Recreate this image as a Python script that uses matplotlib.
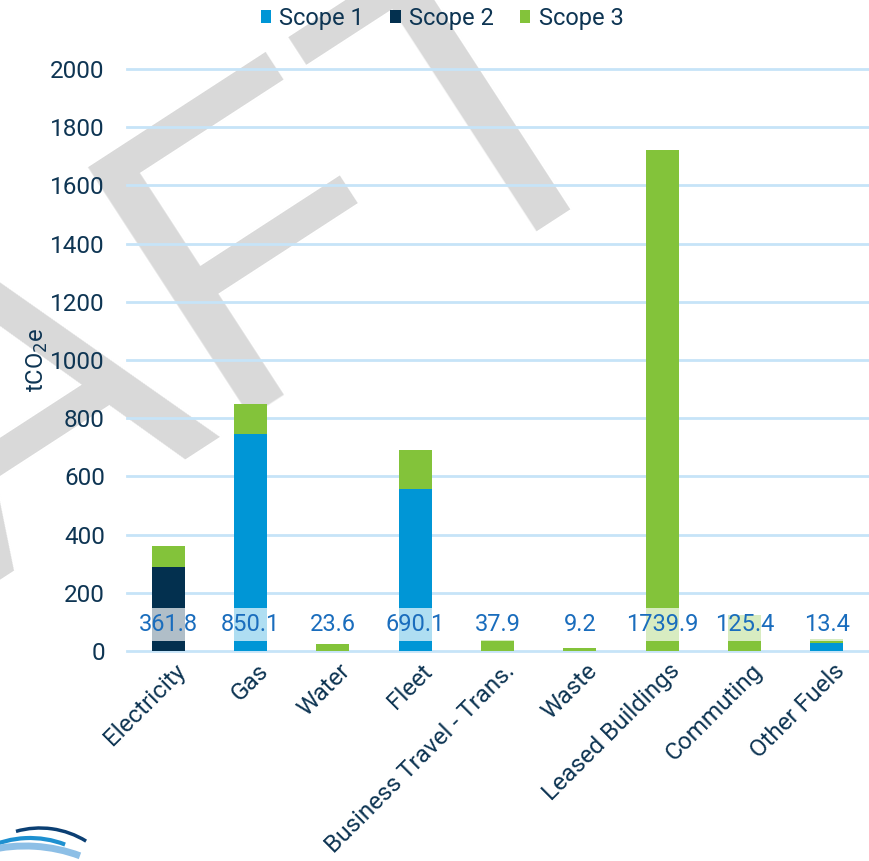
import matplotlib
matplotlib.use("Agg")
import matplotlib.pyplot as plt
import matplotlib.transforms as mtransforms
from matplotlib.patches import Arc
import numpy as np

categories = ['Electricity', 'Gas', 'Water', 'Fleet', 'Business Travel - Trans.',
              'Waste', 'Leased Buildings', 'Commuting', 'Other Fuels']
scope1 = [0, 747, 0, 558, 0, 0, 0, 0, 27]
scope2 = [290, 0, 0, 0, 0, 0, 0, 0, 0]
scope3 = [71.8, 103.1, 23.6, 132.1, 37.9, 9.2, 1722, 125.4, 13.4]
total_labels = ['361.8', '850.1', '23.6', '690.1', '37.9', '9.2', '1739.9', '125.4', '13.4']
yticks = [0, 200, 400, 600, 800, 1000, 1200, 1400, 1600, 1800, 2000]

C1 = '#0096D6'
C2 = '#03304F'
C3 = '#83C33A'
NAVY = '#0E3553'
LBL = '#1A6DBD'
GRID = '#C6E4F8'

plt.rcParams['font.family'] = ['Roboto', 'DejaVu Sans']

W, H = 870, 861
fig = plt.figure(figsize=(W / 100, H / 100), dpi=100)
ident = mtransforms.IdentityTransform()

# DRAFT watermark
fig.text(-551, -54, 'DRAFT', transform=ident, rotation=33, rotation_mode='anchor',
         ha='left', va='baseline', fontsize=312, color='#D9D9D9',
         family='Liberation Sans', zorder=-5)

ax = fig.add_axes([127 / W, (H - 651) / H, 741 / W, 582 / H])
ax.set_facecolor('none')

x = np.arange(len(categories))
s1 = np.array(scope1, dtype=float)
s2 = np.array(scope2, dtype=float)
s3 = np.array(scope3, dtype=float)
bw = 0.4
ax.bar(x, s1, bw, color=C1, label='Scope 1', zorder=3)
ax.bar(x, s2, bw, bottom=s1, color=C2, label='Scope 2', zorder=3)
ax.bar(x, s3, bw, bottom=s1 + s2, color=C3, label='Scope 3', zorder=3)

for xi, t in zip(x, total_labels):
    ax.text(xi, 91.5, t, ha='center', va='center', fontsize=17, color=LBL, zorder=5,
            bbox=dict(boxstyle='square,pad=0.2', facecolor='white', alpha=0.69,
                      edgecolor='none'))

ax.set_xlim(-0.5, len(categories) - 0.5)
ax.set_ylim(0, 2000)
ax.set_yticks(yticks)
ax.set_yticklabels([str(v) for v in yticks])
ax.yaxis.grid(True, color=GRID, linewidth=2, zorder=1)
for gl in ax.yaxis.get_gridlines():
    gl.set_clip_on(False)
ax.set_axisbelow(True)
for sp in ax.spines.values():
    sp.set_visible(False)
ax.tick_params(axis='y', length=0, pad=16, labelsize=17.5, labelcolor=NAVY)
ax.tick_params(axis='x', length=0, pad=12, labelsize=17.5, labelcolor=NAVY)
ax.set_xticks(x)
ax.set_xticklabels(categories, rotation=45, ha='right', va='center',
                   rotation_mode='anchor')
offset = mtransforms.ScaledTranslation(10 / 72, 0, fig.dpi_scale_trans)
for lab in ax.get_xticklabels():
    lab.set_transform(lab.get_transform() + offset)

ax.set_ylabel('tCO$_2$e', fontsize=17, color=NAVY)
ax.yaxis.set_label_coords(-0.104, 0.50)

leg = fig.legend(loc='upper center', bbox_to_anchor=(442 / W, 1 + 14 / H), ncol=3,
                 frameon=False, fontsize=17, handlelength=0.45, handleheight=0.45,
                 handletextpad=0.35, columnspacing=1.1, labelcolor=NAVY)

# partial logo bottom-left
lax = fig.add_axes([0, 0, 100 / W, 40 / H])
lax.set_xlim(0, 100)
lax.set_ylim(0, 40)
lax.axis('off')
lax.add_patch(Arc((40, -60), 180, 186, theta1=60, theta2=105, color='#0B3F73', lw=2.5))
lax.add_patch(Arc((30, -80), 200, 206, theta1=70, theta2=115, color='#1E90D0', lw=3))
lax.add_patch(Arc((25, -90), 260, 210, theta1=60, theta2=110, color='#8DBFE6', lw=5))

fig.savefig('out.png', dpi=100)
